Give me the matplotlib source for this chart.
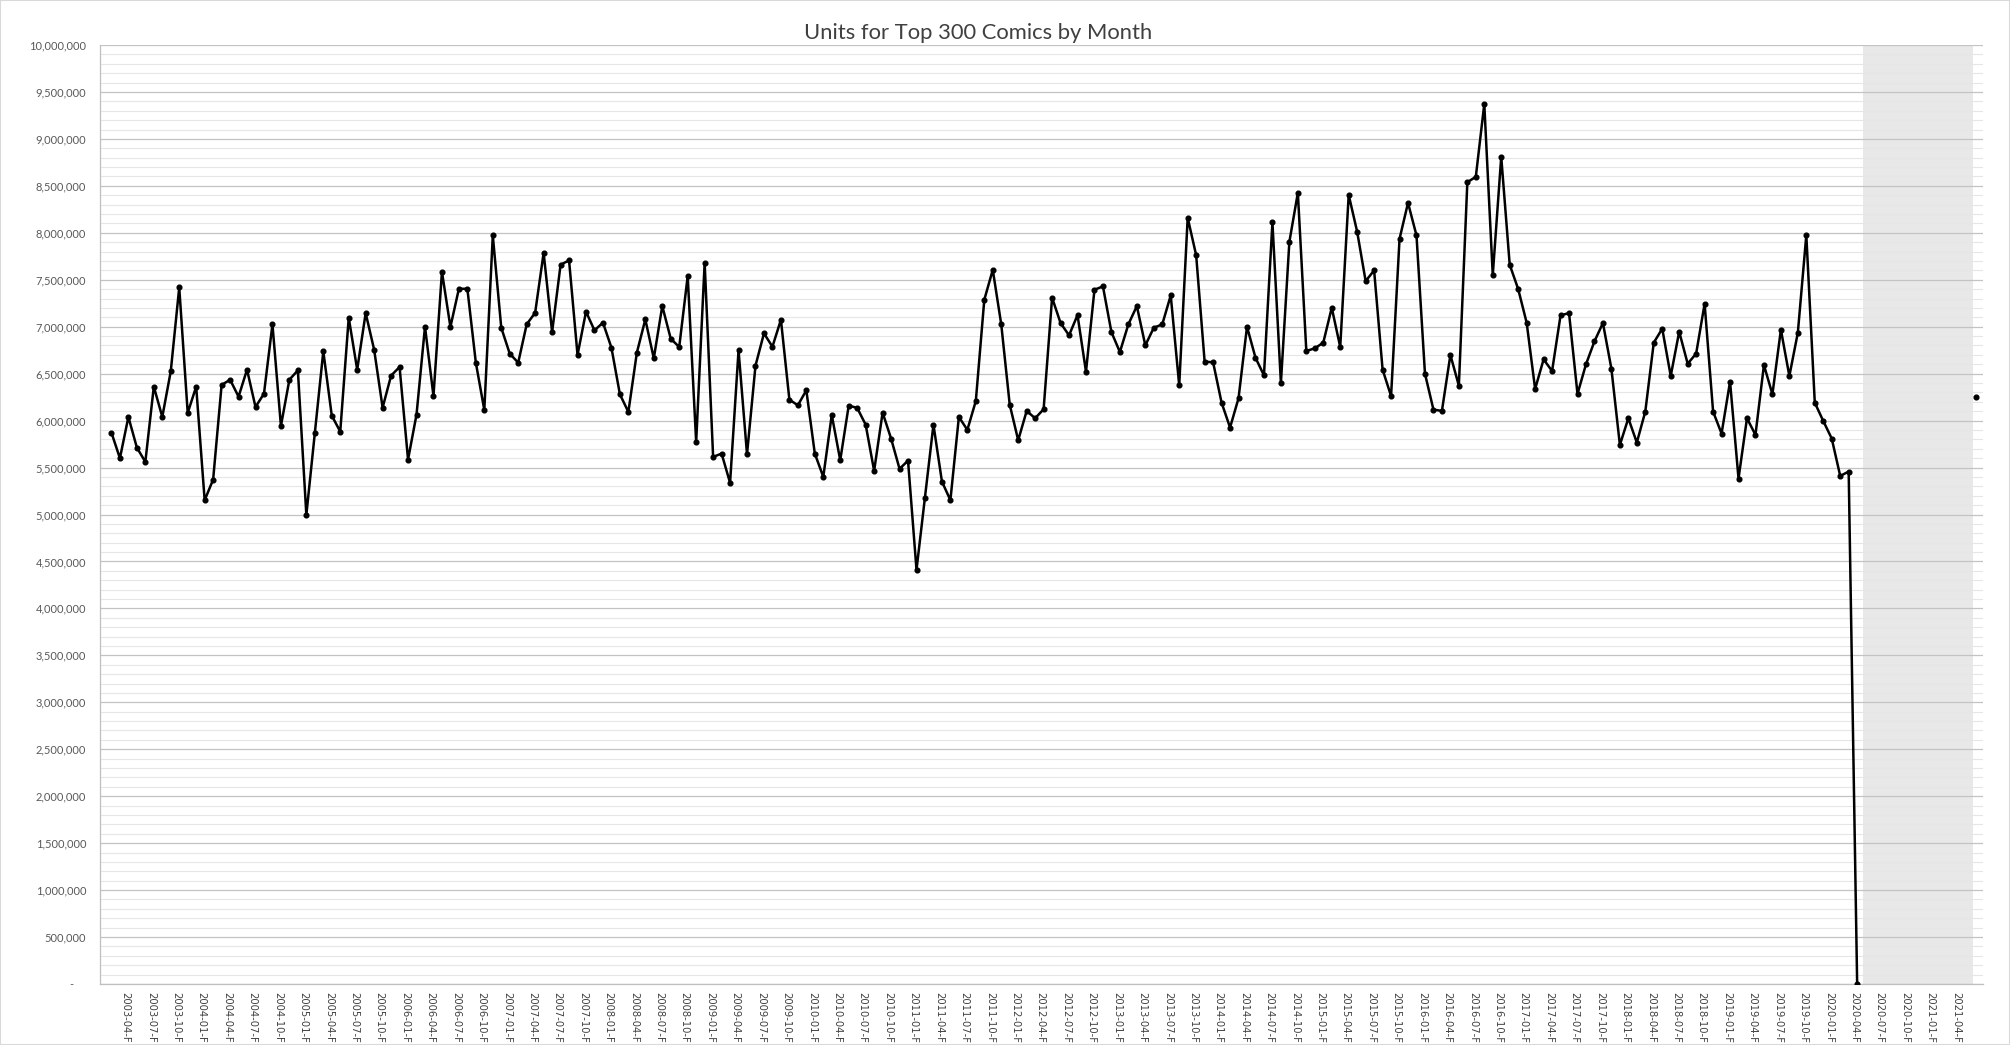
import matplotlib

matplotlib.use("Agg")
import matplotlib.pyplot as plt
import numpy as np
import pandas as pd
from matplotlib.patches import Rectangle
from matplotlib.ticker import FuncFormatter, MultipleLocator

TITLE = "Units for Top 300 Comics by Month"

# monthly units (thousands), 2003-02 .. 2020-04
FIRST_MONTH = "2003-02"
units_k = [
    5872, 5599, 6039, 5713, 5560, 6362, 6039, 6525, 7418, 6082, 6362,              # 2003
    5152, 5372, 6379, 6436, 6255, 6543, 6145, 6287, 7025, 5943, 6436, 6535,        # 2004
    4996, 5872, 6738, 6053, 5883, 7096, 6543, 7145, 6755, 6138, 6479, 6571,        # 2005
    5585, 6064, 7000, 6262, 7585, 6997, 7404, 7404, 6617, 6113, 7972, 6989,        # 2006
    6713, 6617, 7025, 7149, 7787, 6943, 7660, 7706, 6699, 7160, 6961, 7043,        # 2007
    6777, 6280, 6092, 6723, 7078, 6663, 7220, 6872, 6784, 7539, 5773, 7681,        # 2008
    5613, 5649, 5337, 6748, 5642, 6585, 6929, 6787, 7074, 6223, 6163, 6323,        # 2009
    5649, 5401, 6060, 5578, 6160, 6135, 5957, 5465, 6085, 5809, 5486, 5574,        # 2010
    4411, 5181, 5957, 5351, 5152, 6039, 5901, 6209, 7287, 7606, 7025, 6170,        # 2011
    5791, 6103, 6025, 6121, 7309, 7039, 6908, 7124, 6521, 7394, 7429, 6943,        # 2012
    6730, 7025, 7220, 6801, 6989, 7025, 7333, 6376, 8160, 7762, 6628, 6621,        # 2013
    6191, 5926, 6238, 7000, 6670, 6482, 8110, 6401, 7904, 8426, 6741, 6770,        # 2014
    6830, 7202, 6784, 8404, 8011, 7486, 7599, 6543, 6262, 7936, 8319, 7972,        # 2015
    6500, 6117, 6103, 6699, 6372, 8539, 8596, 9372, 7550, 8809, 7660, 7401,        # 2016
    7043, 6337, 6652, 6528, 7121, 7145, 6284, 6599, 6844, 7039, 6553, 5741,        # 2017
    6025, 5766, 6096, 6830, 6979, 6475, 6947, 6606, 6713, 7245, 6096, 5862,        # 2018
    6415, 5383, 6025, 5848, 6592, 6280, 6968, 6475, 6936, 7975, 6191, 5996,        # 2019
    5809, 5411, 5457, 0,                                                           # 2020
]
# lone point after the gap
late_month = "2021-06"
late_units_k = 6255

# shaded band (no data period)
shade_from = "2020-05"
shade_to = "2021-06"

tick_from, tick_to = "2003-04", "2021-04"
AXIS_START = pd.Period("2003-01", freq="M")


def month_idx(p):
    p = pd.Period(p, freq="M")
    return (p.year - AXIS_START.year) * 12 + p.month - AXIS_START.month


months = pd.period_range(FIRST_MONTH, periods=len(units_k), freq="M")
x = np.array([month_idx(p) for p in months]) + 0.35
y = np.array(units_k) * 1000

fig = plt.figure(figsize=(20.1, 10.45), dpi=100)
ax = fig.add_axes([100 / 2010, 1 - 984 / 1045, 1883 / 2010, 939 / 1045])

ax.axvspan(month_idx(shade_from), month_idx(shade_to), color="#e8e8e8", lw=0, zorder=0.1)
ax.plot(x, y, color="black", lw=1.8, marker="o", ms=3.4, zorder=3)
ax.plot([month_idx(late_month) + 0.35], [late_units_k * 1000], color="black",
        marker="o", ms=3.4, lw=0, zorder=3)

ax.set_xlim(0, 222.2)
ax.set_ylim(0, 10_000_000)
ax.set_axisbelow(True)

ax.yaxis.set_major_locator(MultipleLocator(500_000))
ax.yaxis.set_minor_locator(MultipleLocator(100_000))
ax.yaxis.set_major_formatter(FuncFormatter(lambda v, _: f"{int(v):,}" if v > 0 else "-    "))
ax.grid(axis="y", which="major", color="#c3c3c3", lw=0.9, zorder=0.5)
ax.grid(axis="y", which="minor", color="#e6e6e6", lw=0.8, zorder=0.5)

tick_months = pd.period_range(tick_from, tick_to, freq="3M")
ax.set_xticks([month_idx(p) for p in tick_months])
ax.set_xticklabels([f"{p.strftime('%Y-%m')}-F" for p in tick_months],
                   rotation=270, fontsize=7.2, color="#404040", family="DejaVu Sans")
jans = pd.period_range("2004-01", "2021-01", freq="12M")
ax.set_xticks([month_idx(p) for p in jans], minor=True)
ax.grid(axis="x", which="minor", color="#c3c3c3", lw=0.9, zorder=0.5)
ax.grid(axis="x", which="major", visible=False)

ax.tick_params(which="both", length=0)
ax.tick_params(axis="y", pad=10, labelsize=8, labelcolor="#595959")
ax.tick_params(axis="x", pad=6)
for lab in ax.get_yticklabels():
    lab.set_family("Lato")

for s in ("top", "right"):
    ax.spines[s].set_visible(False)
for s in ("left", "bottom"):
    ax.spines[s].set_color("#bfbfbf")
    ax.spines[s].set_linewidth(0.9)

fig.text(978 / 2010, 1 - 33 / 1045, TITLE, ha="center", va="center",
         fontsize=15.8, color="#404040", family="Lato")
fig.patches.append(Rectangle((0, 0), 1, 1, transform=fig.transFigure, fill=False,
                             ec="#d9d9d9", lw=1.5))

fig.savefig("out.png", dpi=100)
